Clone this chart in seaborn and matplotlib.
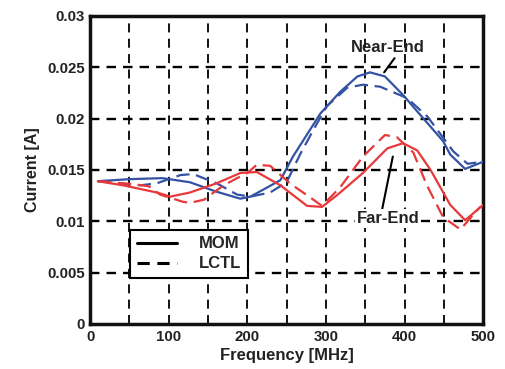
import numpy as np
import pandas as pd
import matplotlib
matplotlib.use("Agg")
import matplotlib.pyplot as plt
from matplotlib.lines import Line2D
import seaborn as sns

# --- data ---
near_mom_f = [10, 50, 92, 127, 160, 191, 204, 242, 258, 293, 318, 340, 356, 375, 398, 424, 449, 458, 477, 500]
near_mom_i = [0.0139, 0.0141, 0.0142, 0.0138, 0.0129, 0.0122, 0.0124, 0.0140, 0.0163, 0.0205, 0.0226, 0.0241,
              0.0245, 0.0241, 0.0223, 0.0200, 0.0178, 0.0165, 0.0151, 0.0158]

near_lctl_f = [10, 64, 85, 115, 131, 161, 187, 204, 229, 250, 267, 284, 301, 327, 347, 369, 403, 429, 462, 480, 500]
near_lctl_i = [0.0139, 0.0135, 0.0137, 0.0145, 0.0146, 0.0137, 0.0126, 0.0124, 0.0128, 0.0138, 0.0165, 0.0189,
               0.0212, 0.0230, 0.0233, 0.0231, 0.0220, 0.0202, 0.0168, 0.0156, 0.0158]

far_mom_f = [10, 42, 85, 102, 127, 161, 191, 212, 242, 276, 295, 315, 347, 378, 398, 416, 433, 458, 477, 500]
far_mom_i = [0.0139, 0.0135, 0.0128, 0.0124, 0.0128, 0.0137, 0.0147, 0.0148, 0.0135, 0.0115, 0.0114, 0.0126,
             0.0147, 0.0171, 0.0176, 0.0169, 0.0150, 0.0116, 0.0101, 0.0116]

far_lctl_f = [10, 57, 75, 89, 118, 127, 145, 157, 170, 187, 200, 212, 229, 254, 284, 295, 318, 347, 375, 390,
              411, 429, 449, 471, 496]
far_lctl_i = [0.0139, 0.0136, 0.0134, 0.0126, 0.0119, 0.0118, 0.0121, 0.0128, 0.0135, 0.0142, 0.0147, 0.0155,
              0.0154, 0.0137, 0.0121, 0.0115, 0.0133, 0.0163, 0.0184, 0.0182, 0.0167, 0.0134, 0.0104, 0.0092, 0.0114]

x_ticks = [0, 100, 200, 300, 400, 500]
y_ticks = [0, 0.005, 0.01, 0.015, 0.02, 0.025, 0.03]
y_labels = ["0", "0.005", "0.01", "0.015", "0.02", "0.025", "0.03"]

BLUE = "#3352a3"
RED = "#e8383a"

sns.set_style("white")
plt.rcParams["font.family"] = ["Liberation Sans", "DejaVu Sans"]
plt.rcParams["font.weight"] = "bold"

fig = plt.figure(figsize=(5.06, 3.69), dpi=100)
ax = fig.add_axes([0.178, 0.122, 0.777, 0.835])

# grid first so curves sit on top
for gx in range(50, 500, 50):
    ax.axvline(gx, color="black", lw=1.3, ls=(0, (5, 3.5)), zorder=1)
for gy in y_ticks[1:-1]:
    ax.axhline(gy, color="black", lw=1.7, ls=(0, (4, 3)), zorder=1)

sns.lineplot(x=near_mom_f, y=near_mom_i, color=BLUE, lw=1.6, ax=ax, zorder=3)
sns.lineplot(x=near_lctl_f, y=near_lctl_i, color=BLUE, lw=1.6, ax=ax, zorder=3).lines[-1].set_dashes((6, 3))
sns.lineplot(x=far_mom_f, y=far_mom_i, color=RED, lw=1.6, ax=ax, zorder=3)
sns.lineplot(x=far_lctl_f, y=far_lctl_i, color=RED, lw=1.6, ax=ax, zorder=3).lines[-1].set_dashes((6, 3))

ax.set_xlim(0, 500)
ax.set_ylim(0, 0.03)
ax.set_xticks(x_ticks)
ax.set_yticks(y_ticks)
ax.set_yticklabels(y_labels)
ax.tick_params(length=0, labelsize=10.8, pad=4)
for lab in ax.get_xticklabels() + ax.get_yticklabels():
    lab.set_fontweight("bold")
    lab.set_color("#222222")
ax.set_xlabel("Frequency [MHz]", fontsize=12, fontweight="bold", labelpad=3, color="#222222")
ax.set_ylabel("Current [A]", fontsize=11.5, fontweight="bold", labelpad=5, color="#222222")
for sp in ax.spines.values():
    sp.set_linewidth(2.5)
    sp.set_color("#111111")

# annotations
ax.annotate("Near-End", xy=(374, 0.0245), xytext=(379, 0.0262),
            ha="center", va="bottom", fontsize=12, fontweight="bold", color="#222222",
            arrowprops=dict(arrowstyle="-", color="black", lw=1.5, shrinkA=0, shrinkB=0, relpos=(0.62, 0)))
ax.annotate("Far-End", xy=(385, 0.0163), xytext=(379, 0.0110),
            ha="center", va="top", fontsize=12, fontweight="bold", color="#222222",
            bbox=dict(boxstyle="square,pad=0.12", fc="white", ec="none"),
            arrowprops=dict(arrowstyle="-", color="black", lw=1.5, shrinkA=0, shrinkB=0, relpos=(0.4, 1)))

handles = [Line2D([], [], color="black", lw=2.2),
           Line2D([], [], color="black", lw=2.2, dashes=(4, 2.5))]
leg = ax.legend(handles, ["MOM", "LCTL"], loc="upper left", bbox_to_anchor=(0.102, 0.306),
                frameon=True, fancybox=False, edgecolor="black", framealpha=1,
                prop={"weight": "bold", "size": 12}, handlelength=2.4, handletextpad=1.3,
                borderpad=0.4, labelspacing=0.3, borderaxespad=0)
leg.get_frame().set_linewidth(1.5)
leg.set_zorder(5)

fig.savefig("out.png", dpi=100)
